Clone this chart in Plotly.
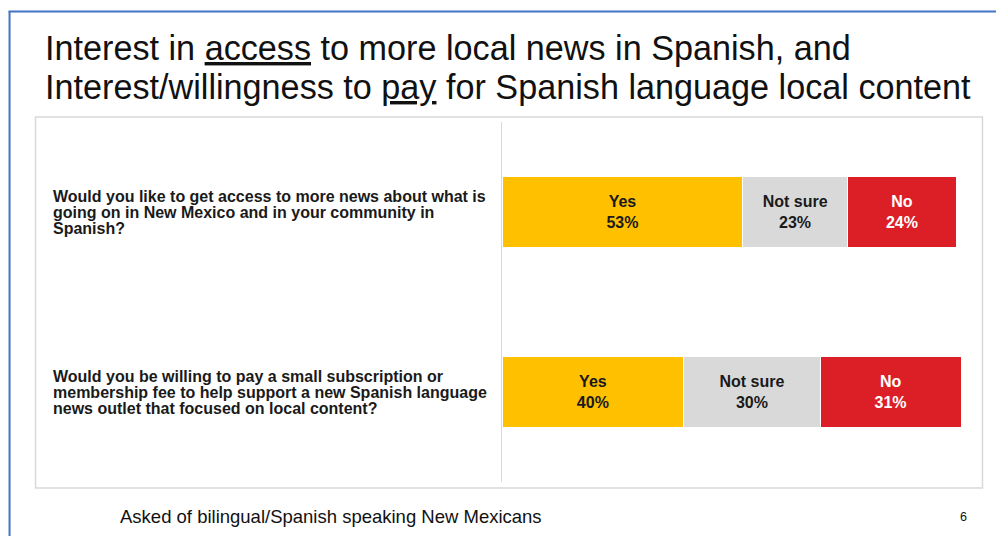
import plotly.graph_objects as go

# Survey questions (top to bottom), one list of text lines per question
question_lines = [
    ["Would you like to get access to more news about what is",
     "going on in New Mexico and in your community in",
     "Spanish?"],
    ["Would you be willing to pay a small subscription or",
     "membership fee to help support a new Spanish language",
     "news outlet that focused on local content?"],
]
row_ids = ["q1", "q2"]
responses = ["Yes", "Not sure", "No"]
# Response shares in percent
yes_vals = [53, 40]
not_sure_vals = [23, 30]
no_vals = [24, 31]

title_lines = [
    "Interest in <u>access</u> to more local news in Spanish, and",
    "Interest/willingness to <u>pay</u> for Spanish language local content",
]
footnote = "Asked of bilingual/Spanish speaking New Mexicans"
page_number = "6"

FONT = "Arial, 'Liberation Sans', sans-serif"
W, H = 996, 536
PLOT_L, PLOT_R, PLOT_T, PLOT_B = 502, 961.5, 122, 482
X_MAX = 101


def px_x(x):
    return (x - PLOT_L) / (PLOT_R - PLOT_L)


def px_y(y):
    return (PLOT_B - y) / (PLOT_B - PLOT_T)


series = [
    (responses[0], yes_vals, "#FFC000", "#1a1a1a"),
    (responses[1], not_sure_vals, "#D9D9D9", "#1a1a1a"),
    (responses[2], no_vals, "#DC1F27", "#FFFFFF"),
]

fig = go.Figure()
for name, vals, color, txtcolor in series:
    fig.add_trace(go.Bar(
        y=row_ids,
        x=vals,
        name=name,
        orientation="h",
        marker=dict(color=color, line=dict(color="#FFFFFF", width=1)),
        text=[f"<b>{name}<br>{v}%</b>" for v in vals],
        texttemplate="%{text}",
        textposition="inside",
        insidetextanchor="middle",
        textfont=dict(family=FONT, size=16, color=txtcolor),
        hoverinfo="skip",
        showlegend=False,
    ))

shapes = [
    # chart frame
    dict(type="rect", xref="paper", yref="paper",
         x0=px_x(35), x1=px_x(983), y0=px_y(488), y1=px_y(117),
         line=dict(color="#D9D9D9", width=1.5), fillcolor="rgba(0,0,0,0)", layer="below"),
    # slide accent border (left and top)
    dict(type="line", xref="paper", yref="paper",
         x0=px_x(9), x1=px_x(9), y0=px_y(540), y1=px_y(11.5),
         line=dict(color="#4472C4", width=2)),
    dict(type="line", xref="paper", yref="paper",
         x0=px_x(8), x1=px_x(1000), y0=px_y(11.5), y1=px_y(11.5),
         line=dict(color="#4472C4", width=2)),
]

annotations = []
for i, line in enumerate(title_lines):
    annotations.append(dict(
        text=line, xref="paper", yref="paper",
        x=px_x(42), y=px_y(48 + i * 39), xanchor="left", yanchor="middle",
        showarrow=False, font=dict(family=FONT, size=34.2, color="#111111"),
    ))

# question labels: three lines, 16 px apart, centred on each bar
for rid, lines in zip(row_ids, question_lines):
    n = len(lines)
    for j, ln in enumerate(lines):
        annotations.append(dict(
            text=f"<b>{ln}</b>", xref="paper", yref="y",
            x=px_x(51), y=rid, yshift=-(j - (n - 1) / 2) * 16,
            xanchor="left", yanchor="middle", align="left",
            showarrow=False, font=dict(family=FONT, size=16, color="#1a1a1a"),
        ))

annotations.append(dict(
    text=footnote, xref="paper", yref="paper",
    x=px_x(118), y=px_y(516), xanchor="left", yanchor="middle",
    showarrow=False, font=dict(family=FONT, size=18.5, color="#111111"),
))
annotations.append(dict(
    text=page_number, xref="paper", yref="paper",
    x=px_x(970), y=px_y(517), xanchor="right", yanchor="middle",
    showarrow=False, font=dict(family=FONT, size=12.5, color="#111111"),
))

fig.update_layout(
    width=W, height=H,
    barmode="stack",
    bargap=0.61,
    margin=dict(l=PLOT_L, r=W - PLOT_R, t=PLOT_T, b=H - PLOT_B, pad=0),
    paper_bgcolor="#FFFFFF",
    plot_bgcolor="#FFFFFF",
    font=dict(family=FONT),
    shapes=shapes,
    annotations=annotations,
    xaxis=dict(range=[0, X_MAX], visible=False, fixedrange=True),
    yaxis=dict(
        categoryorder="array", categoryarray=row_ids,
        autorange=False, range=[1.5, -0.5],
        showticklabels=False, showgrid=False, zeroline=False,
        showline=True, linecolor="#D9D9D9", linewidth=1,
        fixedrange=True,
    ),
)

fig.write_html("out.html", config={"displayModeBar": False})
